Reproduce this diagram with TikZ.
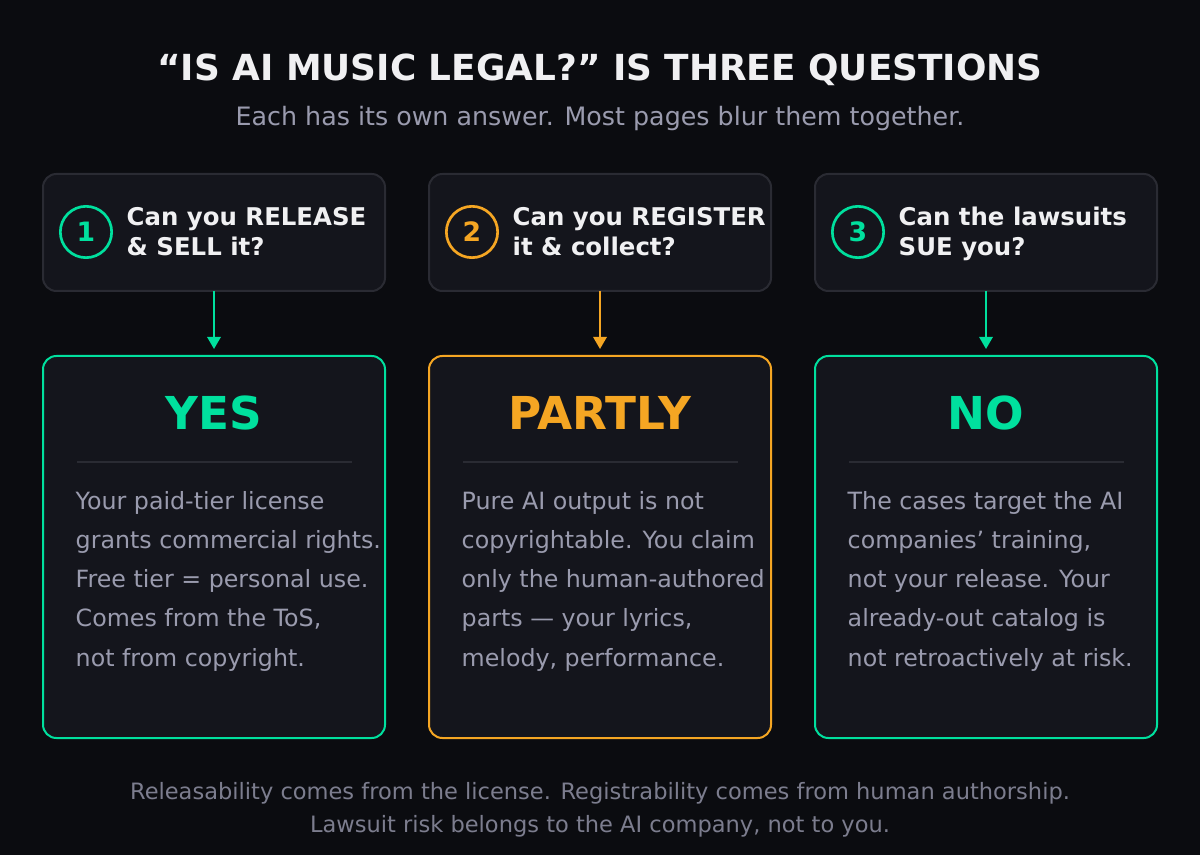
\documentclass[tikz,border=0pt]{standalone}
\usepackage{fontspec}
\usetikzlibrary{arrows.meta}
\setmainfont{DejaVu Sans}
\definecolor{bg}{HTML}{0B0C10}
\definecolor{boxf}{HTML}{14151C}
\definecolor{boxd}{HTML}{2A2B33}
\definecolor{grn}{HTML}{00E09E}
\definecolor{org}{HTML}{F5A623}
\definecolor{txt}{HTML}{9A9BAE}
\definecolor{ftx}{HTML}{7C7D8E}
\definecolor{wht}{HTML}{F0F0F2}
\begin{document}
\begin{tikzpicture}[x=0.75pt,y=-0.75pt,
 qbox/.style={draw=boxd,line width=1.5pt,fill=boxf,rounded corners=10pt},
 abox/.style={line width=1.5pt,fill=boxf,rounded corners=10pt},
 num/.style={circle,draw=#1,line width=2pt,minimum size=38.5pt,inner sep=0pt,text=#1,font=\bfseries\fontsize{20}{20}\selectfont},
 qtxt/.style={anchor=west,align=left,text=wht,font=\bfseries\fontsize{18.3}{22.5}\selectfont},
 ans/.style={font=\bfseries\fontsize{34}{34}\selectfont,text=#1},
 body/.style={anchor=north west,align=left,text=txt,font=\fontsize{17.8}{29.3}\selectfont},
 arr/.style={draw=#1,line width=1.5pt,-{Triangle[length=9pt,width=10pt]}}]
\fill[bg] (0,0) rectangle (1200,855);
\useasboundingbox (0,0) rectangle (1200,855);
\node[text=wht,font=\bfseries\fontsize{26.9}{26.9}\selectfont] (title) at (600,70) {“IS AI MUSIC LEGAL?” IS THREE QUESTIONS};
\node[text=txt,font=\fontsize{19}{19}\selectfont] (sub) at (600,119) {Each has its own answer. Most pages blur them together.};
\foreach \i/\x/\c/\q/\a/\b in {1/43/grn/{Can you RELEASE\\\& SELL it?\strut}/YES/{Your paid-tier license\\grants commercial rights.\\Free tier = personal use.\\Comes from the ToS,\\not from copyright.},
 2/429/org/{Can you REGISTER\\it \& collect?\strut}/PARTLY/{Pure AI output is not\\copyrightable. You claim\\only the human-authored\\parts — your lyrics,\\melody, performance.},
 3/815/grn/{Can the lawsuits\\SUE you?\strut}/NO/{The cases target the AI\\companies’ training,\\not your release. Your\\already-out catalog is\\not retroactively at risk.}}{
 \draw[qbox] (\x,174) rectangle ++(342,117);
 \node[num=\c] (n\i) at (\x+43,232) {\i};
 \node[qtxt] (q\i) at (\x+79,236) {\q};
 \coordinate (qb\i) at (\x+171,291);
 \coordinate (ab\i) at (\x+171,349);
 \draw[arr=\c] (qb\i) -- (ab\i);
 \draw[abox,draw=\c] (\x,356) rectangle ++(342,382);
 \node[ans=\c] (a\i) at (\x+171,413) {\a};
 \draw[boxd,line width=1pt] (\x+34,462) -- (\x+309,462);
 \node[body] (b\i) at (\x+28,487) {\b};
}
\node[text=ftx,align=center,font=\fontsize{16.9}{25}\selectfont] (foot) at (600,810) {Releasability comes from the license. Registrability comes from human authorship.\\Lawsuit risk belongs to the AI company, not to you.};
\end{tikzpicture}
\end{document}
